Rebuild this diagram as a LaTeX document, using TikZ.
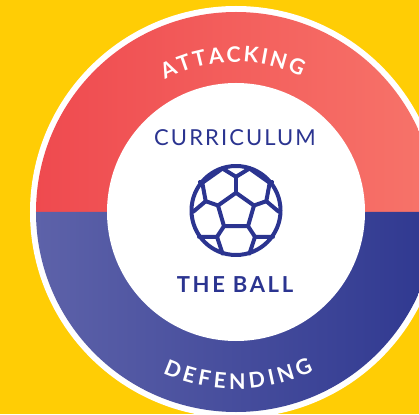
\documentclass[tikz,border=0pt]{standalone}
\usepackage{fontspec}
\setmainfont{Lato}
\usetikzlibrary{decorations.text}

\definecolor{pageyellow}{HTML}{FFCD05}
\definecolor{attackleft}{HTML}{EF4A4F}
\definecolor{attackright}{HTML}{F7746A}
\definecolor{defendleft}{HTML}{5D62A9}
\definecolor{defendright}{HTML}{2F3890}
\definecolor{ballblue}{HTML}{2B3490}

\newcommand{\ringfont}{\fontsize{21.5}{26}\selectfont\bfseries\color{white}}

\tikzset{
	ballline/.style={draw=ballblue,line width=4pt,line join=round,line cap=round},
	ringtext/.style={decorate,decoration={text along path,text align={fit to path},text={|\ringfont|#1}}},
}

\begin{document}
\begin{tikzpicture}[x=1pt,y=1pt]
		\clip (-236,-202) rectangle (183,212);
		\fill[pageyellow] (-236,-202) rectangle (183,212);

		\fill[white] (0,0) circle (206);
		\shade[left color=attackleft,right color=attackright] (-200,0) arc[start angle=180,end angle=0,radius=200] -- cycle;
		\shade[left color=defendleft,right color=defendright] (-200,0) arc[start angle=180,end angle=360,radius=200] -- cycle;
		\fill[white] (0,0) circle (129);

		\path[ringtext=ATTACKING] (118.3:150) arc[start angle=118.3,end angle=64.3,radius=150];
		\path[ringtext=DEFENDING] (-114.5:177) arc[start angle=-114.5,end angle=-64,radius=177];

		\node[ballblue,font=\fontsize{22}{26}\selectfont] (curriculum) at (-1,74) {\addfontfeature{LetterSpace=9.5}CURRICULUM};
		\node[ballblue,font=\fontsize{22}{26}\selectfont\bfseries] (ballname) at (-1,-73) {\addfontfeature{LetterSpace=12}THE BALL};

		\begin{scope}[shift={(0,1.5)}]
			\draw[ballline] (0,0) circle (44.5);
			\draw[ballline] (0,17.7) -- (18,5) -- (12,-15.7) -- (-12,-15.7) -- (-18,5) -- cycle;
			\draw[ballline] (0,17.7) -- (0,33.7);
			\foreach \s in {1,-1} {
				\draw[ballline] (0,33.7) -- (\s*13.5,42);
				\draw[ballline] (\s*13.5,42) -- (\s*33.7,27.7) -- (\s*30.3,9.3) -- (\s*18,5);
				\draw[ballline] (\s*33.7,27.7) -- (\s*36,28.5);
				\draw[ballline] (\s*30.3,9.3) -- (\s*42.5,-1);
				\draw[ballline] (\s*12,-15.7) -- (\s*19,-26.3) -- (\s*37,-26.3);
				\draw[ballline] (\s*19,-26.3) -- (\s*13.5,-43);
			}
		\end{scope}
    \end{tikzpicture}
\end{document}
